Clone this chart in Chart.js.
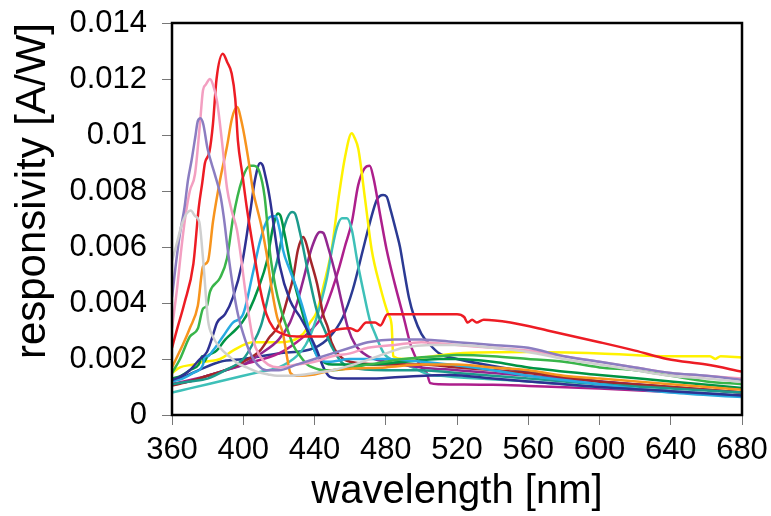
<!DOCTYPE html>
<html>
<head>
<meta charset="utf-8">
<script src="https://cdn.jsdelivr.net/npm/chart.js@4"></script>
<style>
  html, body { margin:0; padding:0; background:#fff; }
  #wrap { width:771px; height:516px; }
</style>
</head>
<body>
<div id="wrap"><canvas id="chart" width="771" height="516"></canvas></div>
<script>
// tick labels
const xTicks = [360, 400, 440, 480, 520, 560, 600, 640, 680];
const yTicks = [0, 0.002, 0.004, 0.006, 0.008, 0.01, 0.012, 0.014];

// responsivity curves, [wavelength nm, A/W]
const gray = [[360,0.0055],[363,0.0062],[366,0.0069],[370.5,0.0073],[373,0.0071],[375.3,0.0069],[377.4,0.0056],[380.2,0.0034],[383,0.0028],[387,0.0024],[392,0.0021],[396.5,0.00186],[402,0.0017],[408,0.00154],[414,0.00145],[419,0.0014],[425,0.0014],[432,0.00143],[440,0.0015],[450,0.0016],[465,0.00186],[480,0.0022],[490,0.0024],[505,0.0025],[520,0.0025],[540,0.0024],[560,0.00225],[580,0.002],[600,0.0018],[620,0.0016],[640,0.0014],[660,0.0013],[680,0.00118]];
const lavender = [[360,0.0042],[362,0.0053],[364.5,0.0065],[367,0.0074],[369,0.0084],[371,0.0091],[373,0.0099],[374.5,0.0105],[376,0.0106],[377.5,0.0104],[380,0.0095],[384,0.0086],[387,0.0079],[389,0.0071],[391.5,0.0058],[394.4,0.0045],[397,0.0036],[400,0.0029],[404,0.0022],[408,0.0018],[413,0.0016],[420,0.0016],[430,0.0018],[440,0.002],[450,0.0022],[460,0.0024],[470,0.0026],[485,0.0027],[500,0.0027],[520,0.0026],[540,0.0025],[560,0.0024],[580,0.0021],[600,0.0019],[620,0.0017],[640,0.0015],[660,0.0014],[680,0.00125]];
const pink = [[360,0.0031],[363,0.0046],[365,0.0058],[367.3,0.007],[370,0.008],[372.9,0.0086],[375.7,0.0104],[377.4,0.0116],[379,0.0118],[381.3,0.012],[383,0.0118],[385.3,0.0112],[388,0.0098],[390.9,0.0081],[393.5,0.0073],[396.5,0.0066],[399,0.0055],[401,0.0045],[405.5,0.0027],[409.4,0.0021],[414,0.0018],[420,0.0017],[430,0.0018],[440,0.0019],[450,0.0021],[460,0.0022],[470,0.0024],[485,0.0025],[500,0.0026],[520,0.0025],[540,0.0024],[560,0.0023],[580,0.0021],[600,0.0019],[620,0.0017],[640,0.0015],[660,0.0014],[680,0.0013]];
const red = [[360,0.0024],[363,0.0031],[367,0.004],[372,0.0054],[375,0.0074],[377,0.0083],[378.5,0.009],[381,0.0094],[383,0.0104],[385,0.012],[388.5,0.0129],[391,0.0126],[393.5,0.0122],[395.5,0.0113],[397,0.0098],[399.5,0.0086],[402,0.0074],[405.5,0.006],[409.5,0.0045],[413,0.0036],[417,0.0031],[422,0.0029],[430,0.0028],[445,0.0028],[450,0.003],[460,0.0031],[464,0.003],[469,0.0033],[474,0.0033],[477,0.0032],[481,0.0036],[490,0.0036],[500,0.0036],[510,0.0036],[520,0.0036],[524,0.0035],[526,0.0033],[528.5,0.0034],[531,0.0033],[535,0.0034],[550,0.0033],[572,0.003],[600,0.0026],[620,0.0023],[638,0.002],[660,0.0018],[680,0.00155]];
const orange = [[360,0.0017],[363,0.0021],[366,0.0025],[370,0.0031],[374.5,0.0039],[377.4,0.0053],[380.2,0.0055],[383,0.0069],[387,0.0084],[390.9,0.0096],[393.7,0.0106],[396.5,0.011],[399.3,0.0104],[402.7,0.0092],[405.5,0.008],[407.7,0.0074],[410,0.0068],[413,0.0058],[416,0.0045],[419,0.0035],[422.3,0.0029],[424.5,0.0021],[426.5,0.0015],[430,0.0014],[440,0.00145],[450,0.0016],[460,0.00165],[480,0.0017],[500,0.0018],[520,0.0018],[540,0.0017],[560,0.0016],[580,0.0014],[600,0.0013],[640,0.0011],[680,0.0009]];
const lightGreen = [[360,0.0015],[364.5,0.002],[370,0.0028],[374.6,0.0031],[377.4,0.0038],[379.6,0.0039],[381.3,0.0044],[387,0.0049],[390.9,0.0056],[394.2,0.007],[399.3,0.0084],[403.8,0.0089],[406,0.0089],[409,0.0087],[412,0.0078],[415,0.0058],[418,0.0046],[421,0.0038],[424.6,0.0031],[428,0.0025],[432,0.0021],[436,0.0018],[439,0.0017],[445,0.0016],[450,0.0016],[470,0.0018],[490,0.002],[510,0.0021],[520,0.00214],[540,0.0021],[560,0.002],[580,0.0019],[600,0.0017],[620,0.0016],[640,0.0014],[660,0.0012],[680,0.0011]];
const navy1 = [[360,0.00125],[364.5,0.00136],[370,0.0016],[375.7,0.002],[379.6,0.00225],[382.5,0.00275],[385.3,0.0033],[389.8,0.0036],[394.2,0.0042],[399.3,0.0054],[403.8,0.0072],[406.6,0.0084],[409.5,0.009],[411,0.0089],[412.2,0.0086],[413.9,0.0081],[415,0.0077],[420.6,0.0053],[426.2,0.0041],[431.9,0.0035],[437,0.0029],[441.4,0.0023],[445,0.0017],[448.7,0.00136],[455,0.0013],[470,0.0013],[488,0.00136],[516,0.00143],[540,0.0013],[560,0.0012],[600,0.001],[640,0.00085],[680,0.0007]];
const cyan = [[360,0.0012],[366,0.0013],[371.8,0.0015],[377.4,0.0018],[378.5,0.0021],[380,0.0021],[383,0.0023],[388.6,0.0028],[394.2,0.0033],[399.9,0.0036],[405.5,0.0051],[409.4,0.0062],[413,0.0069],[416,0.0071],[418,0.0071],[420.5,0.0066],[422.3,0.0059],[426,0.0052],[430.1,0.0045],[435.8,0.0033],[438.5,0.0026],[441.4,0.0021],[448,0.0019],[460,0.002],[480,0.002],[500,0.0019],[516,0.0018],[540,0.0016],[560,0.0014],[600,0.0011],[640,0.0008],[680,0.00064]];
const darkGreen = [[360,0.0013],[365,0.0014],[370,0.0016],[375,0.0018],[377,0.0021],[378,0.0019],[380,0.0021],[385,0.0023],[390,0.0027],[395,0.003],[399.3,0.0033],[403.8,0.0038],[408.3,0.0045],[413.3,0.0055],[416.7,0.0067],[419.5,0.0072],[421,0.0071],[423.4,0.0064],[428,0.0049],[433,0.0037],[438,0.0026],[443,0.002],[450,0.0018],[470,0.0018],[490,0.0019],[510,0.002],[520,0.002],[540,0.0019],[560,0.0017],[600,0.00143],[640,0.0012],[680,0.00096]];
const teal = [[360,0.0011],[370,0.0012],[380,0.0013],[390,0.0016],[400,0.002],[405,0.0025],[410,0.0032],[415,0.0045],[419,0.0055],[423.4,0.0068],[427.4,0.00725],[429,0.0072],[431.9,0.0065],[436.4,0.0051],[441.4,0.0037],[445.9,0.003],[450,0.0024],[455,0.0019],[460,0.0017],[480,0.0016],[500,0.0016],[520,0.0015],[560,0.0013],[600,0.0011],[640,0.00095],[680,0.0008]];
const brown = [[360,0.00105],[370,0.0012],[380,0.0014],[390,0.0016],[400,0.0019],[409.4,0.0023],[415,0.0028],[419,0.0031],[421.8,0.0035],[425,0.0042],[428,0.0049],[430.7,0.0059],[433.6,0.00636],[435,0.0062],[437.5,0.0056],[441.4,0.0047],[443,0.0042],[444.8,0.0036],[447.6,0.0031],[449.5,0.0026],[454.3,0.0021],[460,0.0019],[480,0.0018],[500,0.0018],[520,0.0017],[560,0.0015],[600,0.0012],[640,0.001],[680,0.0008]];
const purple = [[360,0.0011],[370,0.0012],[380,0.0014],[390,0.0016],[400,0.0018],[410,0.0022],[420,0.0027],[426.2,0.0033],[430.2,0.004],[433.6,0.0048],[438.6,0.006],[443.1,0.00654],[445,0.0065],[447.6,0.006],[451.5,0.0051],[455.4,0.004],[458.8,0.0031],[463,0.0025],[470,0.0021],[480,0.0019],[500,0.0017],[520,0.0016],[560,0.0014],[600,0.0012],[640,0.001],[680,0.0008]];
const turquoise = [[360,0.0008],[370,0.00095],[380,0.0011],[390,0.00125],[400,0.0014],[410,0.00155],[420,0.0017],[430,0.0021],[435,0.0025],[439.2,0.0031],[443.1,0.0039],[447,0.0049],[449.8,0.0059],[452.6,0.0067],[455.4,0.00703],[458.2,0.00703],[461,0.0066],[464,0.0055],[467.5,0.0044],[471,0.0034],[474,0.0029],[479,0.0022],[487,0.0019],[495,0.0017],[505,0.00143],[511,0.0014],[520,0.00135],[560,0.0012],[600,0.001],[640,0.00085],[680,0.0007]];
const yellow = [[360,0.0015],[364.5,0.0017],[371.8,0.0018],[378,0.0019],[387,0.002],[394.2,0.0023],[405.5,0.0026],[420.6,0.0026],[433.6,0.0029],[437.5,0.0033],[441.4,0.0037],[445,0.0046],[449.6,0.0059],[453.4,0.0077],[457.1,0.0092],[460.9,0.01006],[462.5,0.0099],[464.6,0.0095],[468.4,0.0077],[472.1,0.0059],[476.8,0.0046],[481.4,0.0036],[483.3,0.0032],[484.2,0.0021],[490,0.002],[500,0.00205],[520,0.0022],[560,0.00225],[600,0.0022],[640,0.0021],[662,0.0021],[665,0.002],[668,0.0021],[680,0.00205]];
const magenta = [[360,0.0011],[380,0.0014],[400,0.0018],[420,0.0022],[430,0.0026],[437.5,0.003],[444,0.0035],[449.5,0.0044],[454,0.0053],[457,0.006],[461,0.0069],[464.5,0.0082],[468,0.0088],[471,0.0089],[473,0.0085],[477,0.0071],[480.5,0.0059],[485,0.0047],[490,0.0035],[494.5,0.0024],[500,0.0017],[503,0.0015],[505,0.00114],[510,0.0011],[540,0.00108],[560,0.00104],[600,0.00095],[640,0.00082],[680,0.00068]];
const navy2 = [[360,0.0012],[368,0.0014],[375,0.0016],[387,0.0019],[400,0.002],[420,0.0022],[440,0.0024],[448.7,0.0028],[456,0.0035],[461.6,0.0045],[467.2,0.0059],[471.2,0.0069],[475.1,0.0077],[478.5,0.00786],[480.5,0.0078],[482.4,0.0074],[486.1,0.0065],[488,0.006],[489.9,0.0053],[493,0.0042],[496,0.0035],[500,0.0029],[505,0.0025],[510,0.0022],[520,0.002],[545,0.0017],[565,0.0015],[600,0.0012],[640,0.001],[680,0.0008]];

const curves = [gray, lavender, pink, red, orange, lightGreen, navy1, cyan, darkGreen, teal, brown, purple, turquoise, yellow, magenta, navy2];
const colors = ['#cfcfcf','#8b7dc1','#f39fc1','#ed1c24','#f7941d','#39b54a','#2e3192','#27aae1','#009444','#1c9a8c','#a3262a','#92278f','#3ec0b8','#fff200','#ad1f8c','#2b3a93'];

const FONT = '"Liberation Sans", Arial, sans-serif';

const frame = {
  id: 'frame',
  afterDraw(chart) {
    const a = chart.chartArea, ctx = chart.ctx;
    ctx.save();
    ctx.strokeStyle = '#000';
    ctx.lineWidth = 2.5;
    ctx.strokeRect(a.left, a.top, a.right - a.left, a.bottom - a.top);
    ctx.restore();
  }
};

new Chart(document.getElementById('chart'), {
  type: 'line',
  data: {
    datasets: curves.map((c, i) => ({
      data: c.map(p => ({ x: p[0], y: p[1] })),
      borderColor: colors[i],
      borderWidth: 2.5,
      pointRadius: 0,
      fill: false,
      cubicInterpolationMode: 'monotone'
    }))
  },
  options: {
    responsive: false,
    animation: false,
    devicePixelRatio: 1,
    layout: { padding: { left: 0, right: 29, top: 23, bottom: 0 } },
    plugins: { legend: { display: false }, tooltip: { enabled: false } },
    scales: {
      x: {
        type: 'linear', min: 360, max: 680,
        afterBuildTicks: s => { s.ticks = xTicks.map(v => ({ value: v })); },
        afterFit: s => { s.height = 101; s.paddingLeft = 0; s.paddingRight = 0; },
        ticks: { font: { family: FONT, size: 31 }, color: '#000', padding: 7, maxRotation: 0 },
        grid: { drawOnChartArea: false, drawTicks: true, tickLength: 10, color: '#777', lineWidth: 1 },
        border: { display: false },
        title: { display: true, text: 'wavelength [nm]', font: { family: FONT, size: 40 }, color: '#000', padding: { top: 0, bottom: 0 } }
      },
      y: {
        min: 0, max: 0.014,
        afterBuildTicks: s => { s.ticks = yTicks.map(v => ({ value: v })); },
        afterFit: s => { s.width = 172; s.paddingTop = 0; s.paddingBottom = 0; },
        ticks: {
          font: { family: FONT, size: 31 }, color: '#000', padding: 15,
          callback: v => Number(v.toFixed(3)).toString()
        },
        grid: { drawOnChartArea: false, drawTicks: true, tickLength: 10, color: '#777', lineWidth: 1 },
        border: { display: false },
        title: { display: true, text: 'responsivity [A/W]', align: 'end', font: { family: FONT, size: 42 }, color: '#000', padding: { top: 8, bottom: 0 } }
      }
    }
  },
  plugins: [frame]
});
</script>
</body>
</html>
